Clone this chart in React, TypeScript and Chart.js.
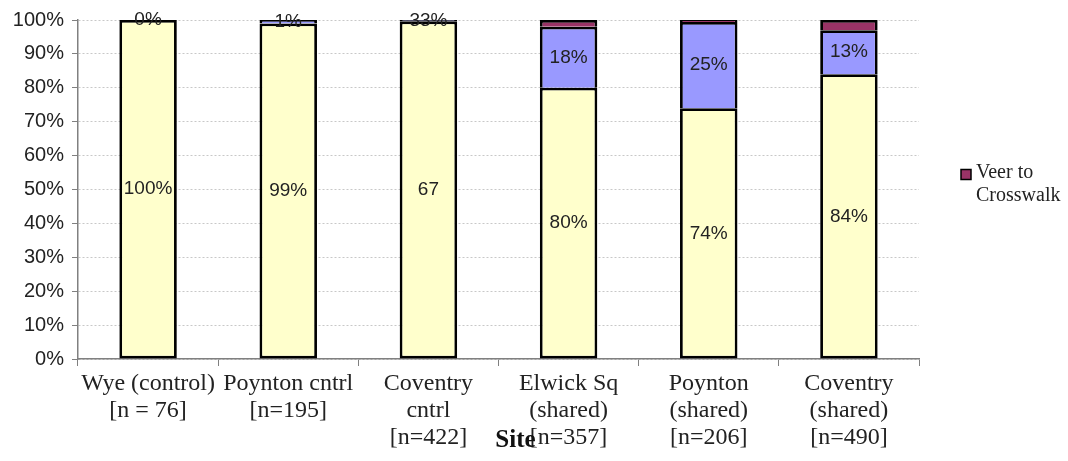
import React, { useEffect, useRef } from "react";
import { Chart, registerables } from "chart.js";

Chart.register(...registerables);

const categories: string[][] = [
  ["Wye (control)", "[n = 76]"],
  ["Poynton cntrl", "[n=195]"],
  ["Coventry", "cntrl", "[n=422]"],
  ["Elwick Sq", "(shared)", "[n=357]"],
  ["Poynton", "(shared)", "[n=206]"],
  ["Coventry", "(shared)", "[n=490]"],
];

const straightValues = [100, 99, 99.6, 80, 74, 84];
const diagonalValues = [0, 1, 0.4, 18, 25.4, 13];
const veerValues = [0, 0, 0, 2, 0.6, 3];

const straightLabels = ["100%", "99%", "67", "80%", "74%", "84%"];
const diagonalLabels = ["0%", "1%", "33%", "18%", "25%", "13%"];

const yTicks = [0, 10, 20, 30, 40, 50, 60, 70, 80, 90, 100];

const legendLabel = ["Veer to", "Crosswalk"];
const axisTitle = "Site";

const COLORS = {
  straight: "#FFFFCC",
  diagonal: "#9999FF",
  veer: "#993366",
};

const segmentLabelPlugin = {
  id: "segmentLabels",
  afterDatasetsDraw(chart: any) {
    const ctx = chart.ctx;
    const labelSets = [straightLabels, diagonalLabels];
    ctx.save();
    ctx.font = "19px 'Liberation Sans', Arial, sans-serif";
    ctx.fillStyle = "#222";
    ctx.textAlign = "center";
    ctx.textBaseline = "middle";
    labelSets.forEach((labels, di) => {
      const meta = chart.getDatasetMeta(di);
      meta.data.forEach((el: any, i: number) => {
        const y = (el.y + el.base) / 2;
        ctx.fillText(labels[i], el.x, y);
      });
    });
    ctx.restore();
  },
};

const extrasPlugin = {
  id: "sideLegend",
  afterDraw(chart: any) {
    const ctx = chart.ctx;
    const area = chart.chartArea;
    const x0 = area.right + 42;
    const yMid = (area.top + area.bottom) / 2;
    ctx.save();
    ctx.fillStyle = COLORS.veer;
    ctx.strokeStyle = "#000";
    ctx.lineWidth = 1.5;
    ctx.fillRect(x0, yMid - 20, 10, 10);
    ctx.strokeRect(x0, yMid - 20, 10, 10);
    ctx.font = "20px 'Liberation Serif', 'Times New Roman', serif";
    ctx.fillStyle = "#222";
    ctx.textAlign = "left";
    ctx.textBaseline = "middle";
    legendLabel.forEach((line, i) => {
      ctx.fillText(line, x0 + 15, yMid - 17 + i * 23);
    });
    // axis title
    ctx.font = "bold 25px 'Liberation Serif', 'Times New Roman', serif";
    ctx.fillStyle = "#111";
    ctx.textAlign = "center";
    ctx.fillText(axisTitle, (area.left + area.right) / 2 + 17, chart.height - 20);
    ctx.restore();
  },
};

export default function App() {
  const canvasRef = useRef<HTMLCanvasElement | null>(null);

  useEffect(() => {
    if (!canvasRef.current) return;
    const chart = new Chart(canvasRef.current, {
      type: "bar",
      data: {
        labels: categories,
        datasets: [
          {
            label: "Straight",
            data: straightValues,
            backgroundColor: COLORS.straight,
            borderColor: "#000",
            borderWidth: 2.8,
            borderSkipped: false,
          },
          {
            label: "Diagonal",
            data: diagonalValues,
            backgroundColor: COLORS.diagonal,
            borderColor: "#000",
            borderWidth: 2.8,
            borderSkipped: "start",
          },
          {
            label: "Veer to Crosswalk",
            data: veerValues,
            backgroundColor: COLORS.veer,
            borderColor: "#000",
            borderWidth: 2.8,
            borderSkipped: "start",
          },
        ],
      },
      options: {
        responsive: false,
        animation: false,
        layout: { padding: { top: 18, right: 149, bottom: 0, left: 0 } },
        datasets: {
          bar: { barPercentage: 0.41, categoryPercentage: 1 },
        },
        plugins: {
          legend: { display: false },
          tooltip: { enabled: false },
          title: { display: false },
        },
        scales: {
          x: {
            stacked: true,
            offset: true,
            afterFit(scale: any) {
              scale.height = 102;
            },
            grid: {
              offset: true,
              drawOnChartArea: false,
              drawTicks: true,
              tickLength: 7,
              tickColor: "#808080",
              color: "#808080",
            },
            border: { display: true, color: "#808080", width: 1.5 },
            ticks: {
              color: "#222",
              padding: 4,
              maxRotation: 0,
              autoSkip: false,
              font: {
                family: "'Liberation Serif', 'Times New Roman', serif",
                size: 24,
                lineHeight: 1.13,
              },
            },
          },
          y: {
            stacked: true,
            min: 0,
            max: 100,
            afterFit(scale: any) {
              scale.width = 78;
            },
            afterBuildTicks(scale: any) {
              scale.ticks = yTicks.map((v) => ({ value: v }));
            },
            grid: {
              color: "#c8c8c8",
              tickBorderDash: [],
              tickColor: "#808080",
              tickLength: 6,
              lineWidth: 1,
            },
            border: { display: true, color: "#808080", width: 1.5, dash: [2, 2] },
            ticks: {
              color: "#222",
              padding: 8,
              callback: (v: any) => `${v}%`,
              font: {
                family: "'Liberation Sans', Arial, sans-serif",
                size: 20,
              },
            },
          },
        },
      },
      plugins: [segmentLabelPlugin, extrasPlugin],
    });
    return () => chart.destroy();
  }, []);

  return (
    <div style={{ position: "absolute", left: 0, top: 0, width: 1068, height: 461, background: "#fff" }}>
      <canvas ref={canvasRef} width={1068} height={461} />
    </div>
  );
}
